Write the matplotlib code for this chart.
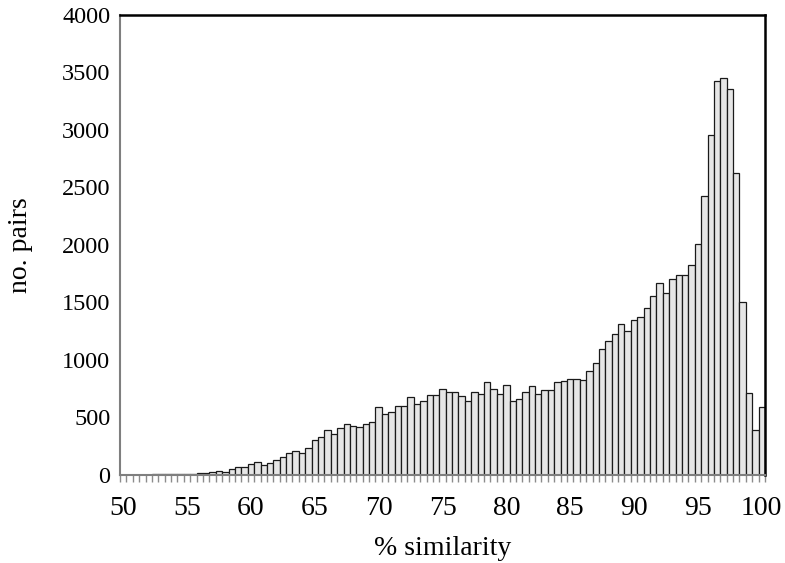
import numpy as np
import matplotlib
matplotlib.use("Agg")
import matplotlib.pyplot as plt

plt.rcParams['font.family'] = ['Liberation Serif', 'DejaVu Serif']

# similarity categories 50.0, 50.5, ..., 100.0
categories = np.arange(50, 100.5, 0.5)
pairs = [2, 2, 3, 3, 4, 5, 8, 8, 9, 9,
         10, 10, 15, 15, 26, 35, 26, 52, 67, 68,
         97, 110, 90, 107, 128, 157, 194, 206, 194, 235,
         305, 328, 388, 357, 405, 447, 428, 418, 447, 465,
         595, 527, 546, 596, 596, 676, 615, 647, 696, 696,
         745, 725, 725, 684, 647, 719, 705, 806, 745, 705,
         782, 645, 663, 719, 777, 702, 740, 740, 809, 818,
         838, 838, 829, 908, 977, 1096, 1166, 1224, 1314, 1254,
         1352, 1373, 1450, 1560, 1668, 1580, 1705, 1736, 1736, 1825,
         2007, 2427, 2958, 3422, 3451, 3355, 2625, 1500, 713, 390,
         595]
xtick_labels = ['50', '55', '60', '65', '70', '75', '80', '85', '90', '95', '100']
yticks = [0, 500, 1000, 1500, 2000, 2500, 3000, 3500, 4000]

fig = plt.figure(figsize=(7.85, 5.63), dpi=100)
ax = fig.add_axes([0.1529, 0.1563, 0.8216, 0.8171])

pos = np.arange(len(categories))
ax.bar(pos, pairs, width=1.0, color='#e6e6e6', edgecolor='#1a1a1a', linewidth=0.9)

ax.set_xlim(-0.5, len(categories) - 0.5)
ax.set_ylim(0, 4000)

ax.set_xticks(pos[::10])
ax.set_xticklabels(xtick_labels)
ax.set_xticks(np.arange(-0.5, len(categories)), minor=True)
ax.tick_params(axis='x', which='major', length=0, pad=15, labelsize=20)
ax.tick_params(axis='x', which='minor', length=5, width=1, color='#8c8c8c')
ax.set_yticks(yticks)
ax.tick_params(axis='y', length=0, pad=7, labelsize=17.5)

for s in ['left', 'bottom']:
    ax.spines[s].set_color('#7f7f7f')
    ax.spines[s].set_linewidth(1.5)
for s in ['top', 'right']:
    ax.spines[s].set_color('black')
    ax.spines[s].set_linewidth(1.8)

ax.set_xlabel('% similarity', fontsize=20, labelpad=11)
ax.set_ylabel('no. pairs', fontsize=20, labelpad=21)

fig.savefig('out.png', dpi=100)
